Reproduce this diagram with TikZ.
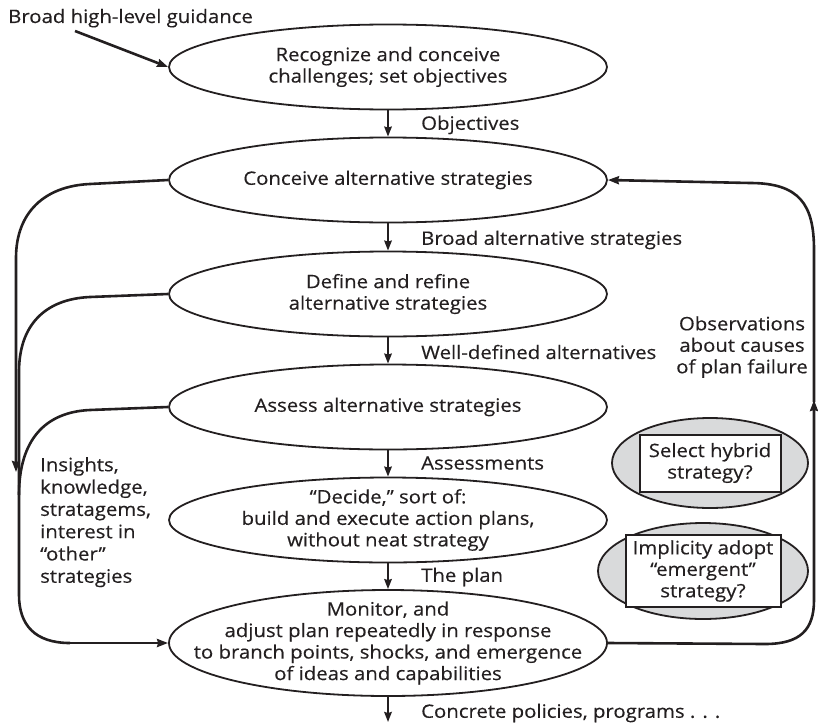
\documentclass[tikz,border=0pt]{standalone}
\usepackage{fontspec}
\setmainfont{Open Sans}[FakeStretch=1.1, FakeBold=0.35]
\usetikzlibrary{shapes.geometric,arrows.meta}
\definecolor{ink}{HTML}{231F20}
\definecolor{shade}{HTML}{D9DADB}
\begin{document}
\begin{tikzpicture}[x=1pt,y=-1pt,
  every node/.style={font=\fontsize{18.5}{21.5}\selectfont, text=ink},
  stage/.style={ellipse, draw=ink, line width=1.8pt, inner sep=0pt, minimum width=438pt, minimum height=85pt},
  txt/.style={align=center, inner sep=0pt},
  lbl/.style={anchor=west, inner sep=0pt},
  flow/.style={draw=ink, line width=2pt, -{Stealth[length=10pt,width=7.5pt,inset=1pt]}},
  loop/.style={draw=ink, line width=2.6pt},
  looparrow/.style={loop, -{Stealth[length=11pt,width=8pt,inset=1pt]}},
  option/.style={ellipse, draw=ink, fill=shade, line width=1.8pt, inner sep=0pt},
  optbox/.style={draw=ink, fill=white, line width=2pt, align=center, inner sep=0pt}
]
\useasboundingbox (0,0) rectangle (818,725);

% main chain of stages
\node[stage] (e1) at (388,67) {};
\node[stage] (e2) at (388,180) {};
\node[stage] (e3) at (388,294) {};
\node[stage] (e4) at (388,407) {};
\node[stage] (e5) at (388,520) {};
\node[stage, minimum height=106pt] (e6) at (388,643) {};

\node[txt] (t1) at (e1) {Recognize and conceive\\challenges; set objectives};
\node[txt] (t2) at (e2) {Conceive alternative strategies};
\node[txt] (t3) at (e3) {Define and refine\\alternative strategies};
\node[txt] (t4) at (e4) {Assess alternative strategies};
\node[txt] (t5) at (e5) {“Decide,” sort of:\\build and execute action plans,\\without neat strategy};
\node[txt] (t6) at (e6) {Monitor, and\\adjust plan repeatedly in response\\to branch points, shocks, and emergence\\of ideas and capabilities};

% outside input
\node[anchor=base west, inner sep=0pt] (g) at (8,23) {Broad high-level guidance};
\coordinate (gs) at (75,31);
\draw[looparrow] (gs) -- (e1.west);

% downward flow with labels
\draw[flow] (e1.south) -- (e2.north);
\draw[flow] (e2.south) -- (e3.north);
\draw[flow] (e3.south) -- (e4.north);
\draw[flow] (e4.south) -- (e5.north);
\draw[flow] (e5.south) -- (e6.north);
\coordinate (out) at (388,722);
\draw[flow] (e6.south) -- (out);

\node[lbl] (l1) at (421,125) {Objectives};
\node[lbl] (l2) at (421,240) {Broad alternative strategies};
\node[lbl] (l3) at (421,352) {Well-defined alternatives};
\node[lbl] (l4) at (421,463) {Assessments};
\node[lbl] (l5) at (421,577) {The plan};
\node[lbl] (l6) at (421,713) {Concrete policies, programs . . .};

% feedback on the left
\coordinate (la) at (16,472);
\draw[loop] (e3.west) -- (90,297) .. controls (45,299) and (19,325) .. (19,372) -- (19,595)
  .. controls (19,625) and (35,643) .. (70,643);
\draw[looparrow] (70,643) -- (e6.west);
\draw[loop] (e4.west) -- (90,410) .. controls (45,412) and (19,440) .. (19,495);
\draw[looparrow] (e2.west) -- (90,184) .. controls (45,186) and (16,212) .. (16,258) -- (la);

\node[anchor=north west, align=left, inner sep=0pt, font=\fontsize{18.5}{22.3}\selectfont] (ins) at (40,457)
  {Insights,\\knowledge,\\stratagems,\\interest in\\“other”\\strategies};

% feedback on the right
\coordinate (ra) at (814,400);
\draw[looparrow] (e6.east) -- (765,644) .. controls (800,644) and (814,630) .. (814,600) -- (ra);
\draw[looparrow] (814,402) -- (814,250) .. controls (814,205) and (800,183) .. (750,183) -- (e2.east);

\node[align=center, inner sep=0pt] (obs) at (742,347) {Observations\\about causes\\of plan failure};

% alternative outcomes
\node[option, minimum width=196pt, minimum height=90pt] (h1) at (710,463) {};
\node[optbox, minimum width=141pt, minimum height=57pt] (b1) at (h1) {Select hybrid\\strategy?};
\node[option, minimum width=210pt, minimum height=96pt] (h2) at (703,571) {};
\node[optbox, minimum width=155pt, minimum height=72pt] (b2) at (h2) {Implicity adopt\\“emergent”\\strategy?};
\end{tikzpicture}
\end{document}
